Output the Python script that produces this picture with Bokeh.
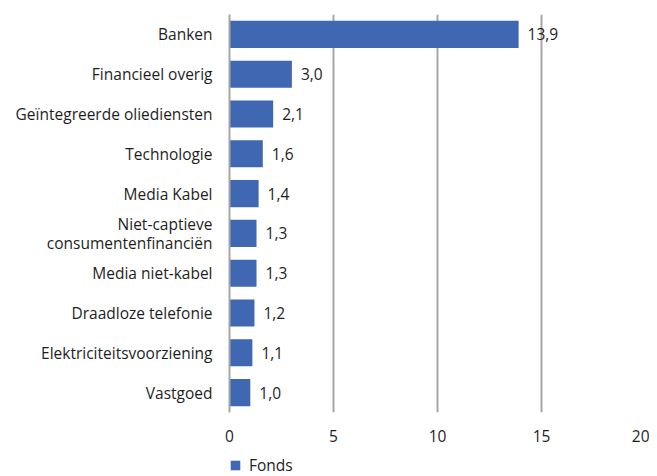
from bokeh.plotting import figure
from bokeh.layouts import column
from bokeh.models import ColumnDataSource, Legend, LegendItem, FixedTicker, LabelSet
from bokeh.core.properties import value
from bokeh.embed import file_html
from bokeh.resources import INLINE

categories = ["Banken", "Financieel overig", "Geïntegreerde oliediensten", "Technologie",
              "Media Kabel", "Niet-captieve\nconsumentenfinanciën", "Media niet-kabel",
              "Draadloze telefonie", "Elektriciteitsvoorziening", "Vastgoed"]
values = [13.9, 3.0, 2.1, 1.6, 1.4, 1.3, 1.3, 1.2, 1.1, 1.0]
value_labels = ["13,9", "3,0", "2,1", "1,6", "1,4", "1,3", "1,3", "1,2", "1,1", "1,0"]
x_ticks = [0, 5, 10, 15, 20]
series_name = "Fonds"

FONT = "Open Sans"
FS = "15.5px"
BAR = "#4068b2"
GRID = "#a6a6a6"
TXT = "#1e1e1e"

src = ColumnDataSource(dict(cat=categories, val=values, lab=value_labels))

p = figure(width=649, height=450, y_range=list(reversed(categories)), x_range=(0, 20),
           output_backend="svg", toolbar_location=None,
           min_border_left=229, min_border_right=4, min_border_top=14, min_border_bottom=38)
p.outline_line_color = None
p.background_fill_color = "white"
p.border_fill_color = "white"

r = p.hbar(y="cat", right="val", left=0, height=0.68, fill_color=BAR, line_color=None,
           source=src)

labels = LabelSet(x="val", y="cat", text="lab", source=src, x_offset=9, y_offset=0,
                  text_align="left", text_baseline="middle", text_font=value(FONT),
                  text_font_size=value(FS), text_color=TXT)
p.add_layout(labels)

p.xaxis.ticker = FixedTicker(ticks=x_ticks)
p.xaxis.axis_line_color = None
p.xaxis.major_tick_line_color = None
p.xaxis.minor_tick_line_color = None
p.xaxis.major_label_text_font = FONT
p.xaxis.major_label_text_font_size = FS
p.xaxis.major_label_text_color = TXT
p.xaxis.major_label_standoff = 11

p.yaxis.axis_line_color = GRID
p.yaxis.axis_line_width = 2
p.yaxis.major_tick_line_color = None
p.yaxis.minor_tick_line_color = None
p.yaxis.major_label_text_font = FONT
p.yaxis.major_label_text_font_size = FS
p.yaxis.major_label_text_color = TXT
p.yaxis.major_label_text_line_height = 0.85
p.yaxis.major_label_standoff = 11

p.xgrid.grid_line_color = GRID
p.xgrid.grid_line_width = 2
p.ygrid.grid_line_color = None

# legend strip below the chart (swatch renderer kept outside the visible range)
lg = figure(width=649, height=26, x_range=(0, 1), y_range=(0, 1),
            output_backend="svg", toolbar_location=None,
            x_axis_type=None, y_axis_type=None,
            min_border_left=229, min_border_right=4, min_border_top=0, min_border_bottom=0)
lg.outline_line_color = None
lg.xgrid.visible = False
lg.ygrid.visible = False
lr = lg.hbar(y=[5], left=[5], right=[6], height=1.0, fill_color=BAR, line_color=None)
legend = Legend(items=[LegendItem(label=series_name, renderers=[lr])], location=(0, 0),
                orientation="horizontal", glyph_width=12, glyph_height=12,
                label_text_font=FONT, label_text_font_size=FS, label_text_color=TXT,
                padding=0, margin=0, spacing=0, label_standoff=8,
                border_line_color=None, background_fill_alpha=0)
lg.add_layout(legend)

layout = column(p, lg, spacing=0)
open("out.html", "w").write(file_html(layout, INLINE))
